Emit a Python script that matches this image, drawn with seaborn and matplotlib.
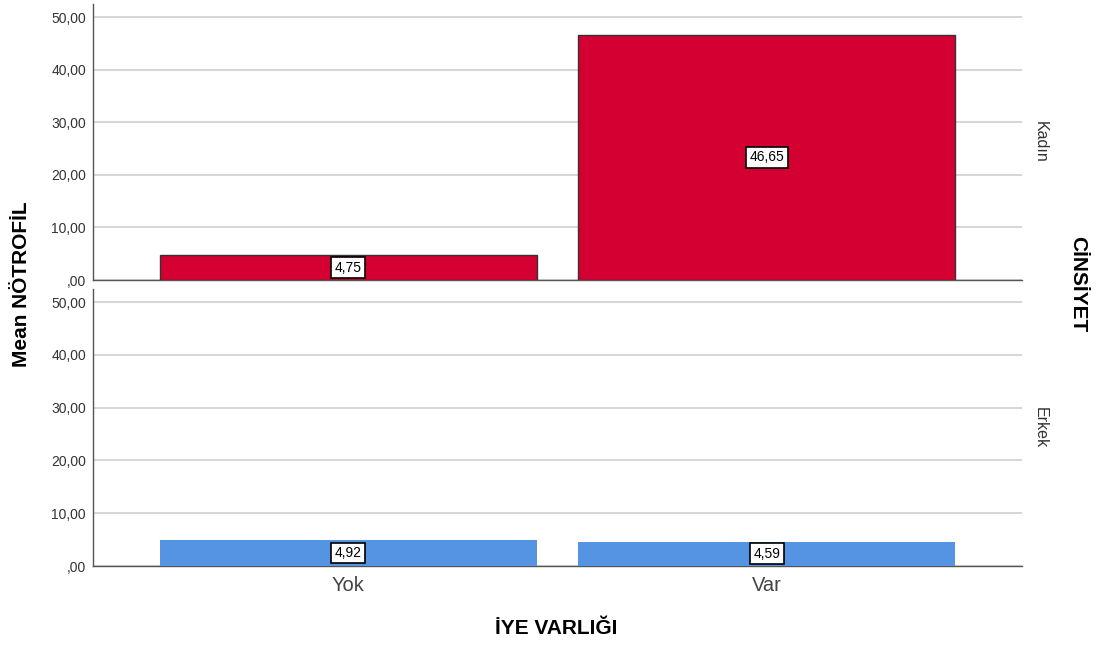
import matplotlib
matplotlib.use("Agg")
import matplotlib.pyplot as plt
import seaborn as sns
import pandas as pd

categories = ["Yok", "Var"]
kadin_values = [4.75, 46.65]
erkek_values = [4.92, 4.59]
value_labels_kadin = ["4,75", "46,65"]
value_labels_erkek = ["4,92", "4,59"]
panel_labels = ["Kadın", "Erkek"]
ytick_values = [0, 10, 20, 30, 40, 50]
ytick_labels = [",00", "10,00", "20,00", "30,00", "40,00", "50,00"]

sns.set_theme(style="white")
plt.rcParams["font.family"] = ["Liberation Sans", "DejaVu Sans"]

fig = plt.figure(figsize=(11.03, 6.46), dpi=100)
L, R = 93 / 1103, 1022 / 1103
ax1 = fig.add_axes([L, 1 - 280 / 646, R - L, (280 - 4) / 646])
ax2 = fig.add_axes([L, 1 - 566 / 646, R - L, (566 - 289) / 646])

panels = [
    (ax1, kadin_values, value_labels_kadin, "#D50032", True, panel_labels[0]),
    (ax2, erkek_values, value_labels_erkek, "#5594E2", False, panel_labels[1]),
]

for ax, vals, labs, col, edge, plab in panels:
    df = pd.DataFrame({"cat": categories, "val": vals})
    sns.barplot(data=df, x="cat", y="val", color=col, width=0.9, ax=ax,
                saturation=1, edgecolor="#333333" if edge else col,
                linewidth=1.0 if edge else 0, zorder=3)
    ax.set_xlim(-0.61, 1.61)
    ax.set_ylim(0, 52.5)
    ax.set_yticks(ytick_values)
    ax.set_yticklabels(ytick_labels, fontsize=10, color="#333333")
    ax.yaxis.grid(True, color="#d0d0d0", linewidth=1.2, zorder=0)
    ax.set_axisbelow(True)
    for s in ["top", "right"]:
        ax.spines[s].set_visible(False)
    for s in ["left", "bottom"]:
        ax.spines[s].set_color("#555555")
        ax.spines[s].set_linewidth(1.0)
    ax.tick_params(axis="both", length=0, pad=5)
    ax.set_xlabel("")
    ax.set_ylabel("")
    for i, (v, t) in enumerate(zip(vals, labs)):
        ax.text(i, v / 2, t, ha="center", va="center", fontsize=10, color="black",
                zorder=5,
                bbox=dict(boxstyle="square,pad=0.25", facecolor="white",
                          edgecolor="black", linewidth=1.2))
    ax.text(1.012, 0.5, plab, transform=ax.transAxes, rotation=-90,
            ha="left", va="center", fontsize=11.5, color="#333333")

ax1.set_xticklabels([])
ax2.set_xticklabels(categories, fontsize=14.5, color="#444444")
ax2.tick_params(axis="x", pad=7)

fig.text(0.5047, 1 - 628 / 646, "İYE VARLIĞI", ha="center", va="center",
         fontsize=15, fontweight="bold", color="black")
fig.text(22 / 1103, 1 - 284 / 646, "Mean NÖTROFİL", ha="center", va="center",
         rotation=90, fontsize=15, fontweight="bold", color="black")
fig.text(1078 / 1103, 1 - 284 / 646, "CİNSİYET", ha="center", va="center",
         rotation=-90, fontsize=15, fontweight="bold", color="black")

fig.savefig("out.png", dpi=100)
